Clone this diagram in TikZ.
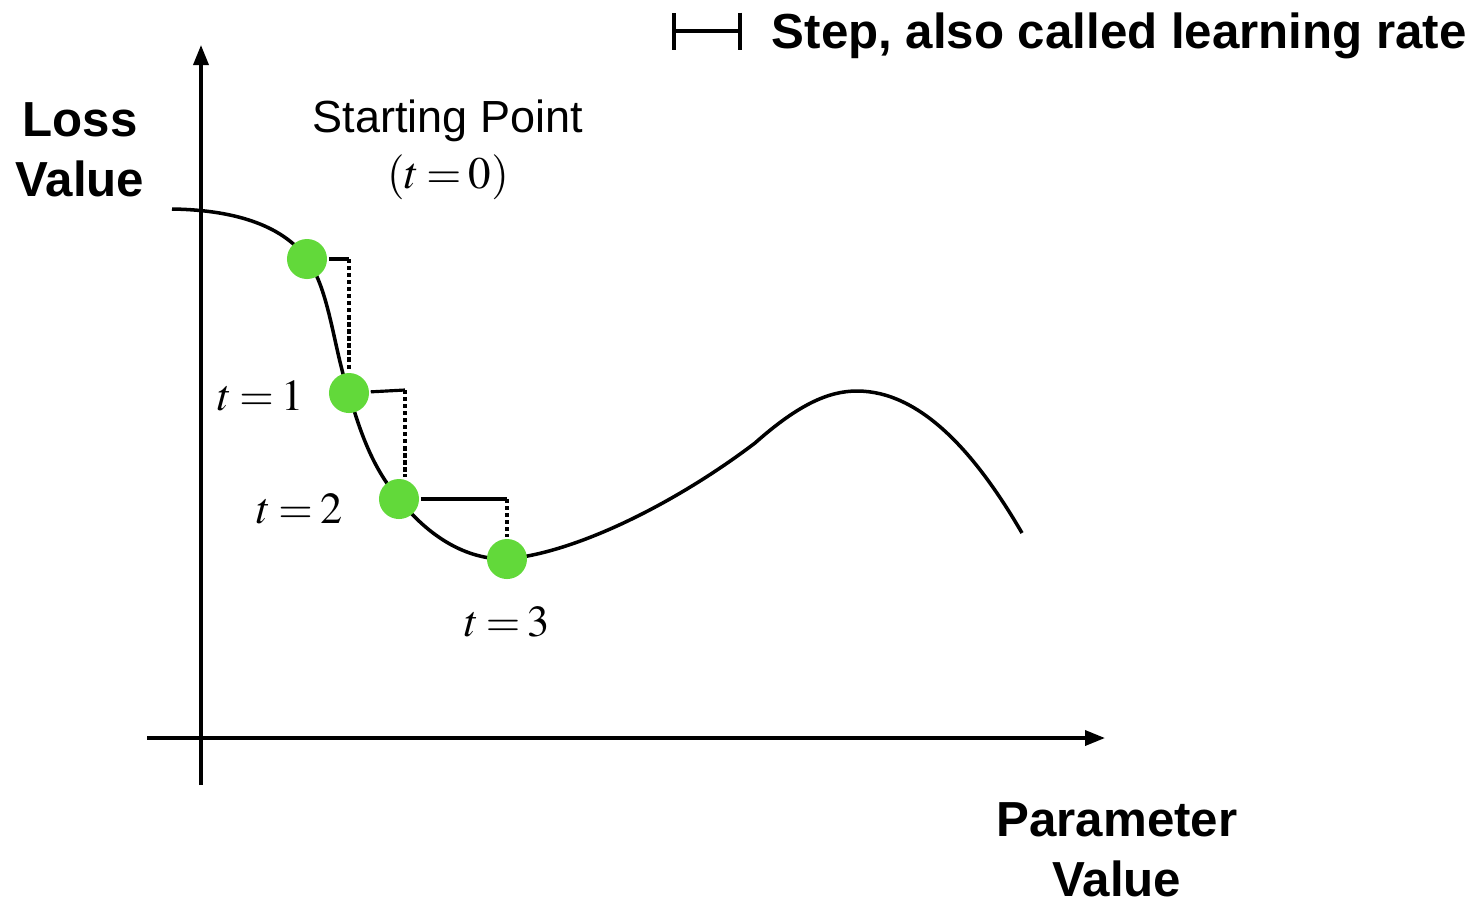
\documentclass[tikz,border=0pt]{standalone}
\usepackage{mathptmx}
\usepackage{fontspec}
\setmainfont{Liberation Sans}
\usepackage{xcolor}
\usetikzlibrary{arrows.meta, positioning}

\definecolor{dotgreen}{RGB}{98,217,58}
\newcommand{\tightrel}{\thickmuskip=3mu\relax}

\begin{document}
\begin{tikzpicture}[x=0.01cm, y=-0.01cm, line width=1pt,
  dot/.style={circle, fill=dotgreen, inner sep=0pt, minimum size=4mm},
  bigbold/.style={font=\fontsize{14}{17}\selectfont\bfseries, align=center},
  tlabel/.style={font=\fontsize{12.6}{16}\selectfont\tightrel, inner sep=0pt},
  stepline/.style={line width=0.9pt},
  stepdots/.style={line width=0.9pt, dash pattern=on 1.2pt off 0.8pt}]
\useasboundingbox (0,0) rectangle (1479,902);

% axes
\coordinate (ybot) at (201,785);
\coordinate (ytop) at (201,45);
\coordinate (xleft) at (147,738);
\coordinate (xright) at (1105,738);
\draw[-{Triangle[length=2mm, width=1.5mm]}] (ybot) -- (ytop);
\draw[-{Triangle[length=2mm, width=1.5mm]}] (xleft) -- (xright);

% loss curve
\coordinate (p0) at (307,259);
\coordinate (p1) at (349,393);
\coordinate (p2) at (399,499);
\coordinate (p3) at (507,559);
\draw (172,209) .. controls (240,210) and (285,228) .. (p0)
  .. controls (330,290) and (334,352) .. (p1)
  .. controls (362,440) and (376,472) .. (p2)
  .. controls (428,536) and (466,560) .. (p3)
  .. controls (580,552) and (680,500) .. (755,443)
  .. controls (800,403) and (830,391) .. (857,391)
  .. controls (920,391) and (975,452) .. (1022,533);

% steps
\node[dot] (d0) at (p0) {};
\node[dot] (d1) at (p1) {};
\node[dot] (d2) at (p2) {};
\node[dot] (d3) at (p3) {};
\coordinate (s0) at (d0 -| d1);
\coordinate (s1) at (405,390);
\coordinate (s2) at (d2 -| d3);
\draw[stepline] (d0) -- (s0);
\draw[stepdots] (s0) -- (d1.north);
\draw[stepline] (d1) -- (s1);
\draw[stepdots] (s1) -- (s1 |- d2.north);
\draw[stepline] (d2) -- (s2);
\draw[stepdots] (s2) -- (d3.north);

% labels
\node[tlabel, left=2.2mm of d1, yshift=-0.3mm] (l1) {$t = 1$};
\node[tlabel, left=3.3mm of d2, yshift=-1mm] (l2) {$t = 2$};
\node[tlabel, below=2.4mm of d3] (l3) {$t = 3$};
\node[font=\fontsize{12.8}{16}\selectfont\tightrel, align=center] (start) at (448,150) {Starting Point\\$(t = 0)$};
\node[bigbold] (ylabel) at (80,150) {Loss\\Value};
\node[bigbold] (xlabel) at (1117,850) {Parameter\\Value};

% legend
\coordinate (leg0) at (672,31);
\coordinate (leg1) at (742,31);
\draw[{Bar[width=3.7mm]}-{Bar[width=3.7mm]}] (leg0) -- (leg1);
\node[bigbold, anchor=west, inner sep=0pt] (legend) at (770,36) {Step, also called learning rate};
\end{tikzpicture}
\end{document}
